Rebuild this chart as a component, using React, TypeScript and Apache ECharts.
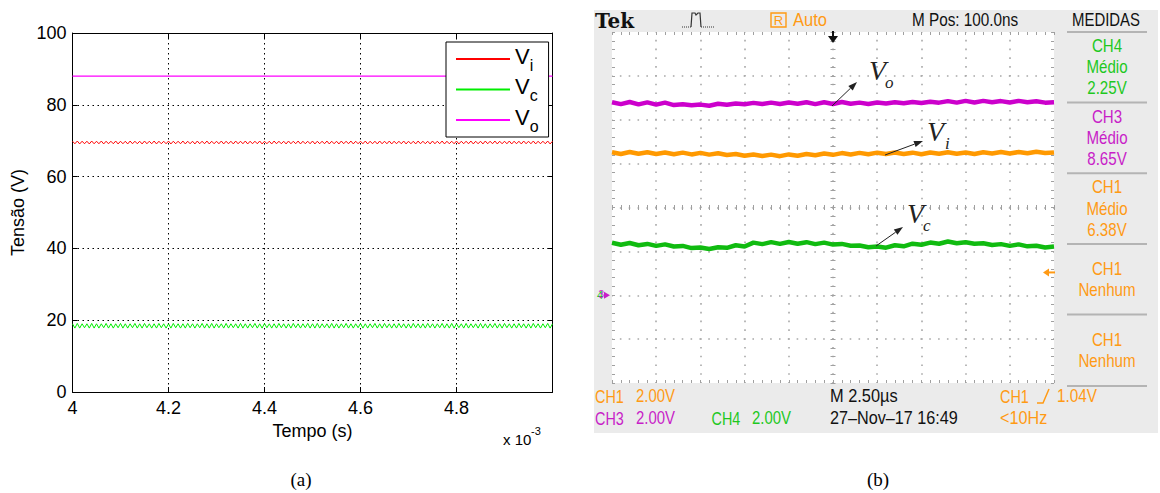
import React, { useEffect, useRef } from 'react';
import * as echarts from 'echarts';

// ================= (a) simulation (time in units of 10^-3 s) =================
const SIM_T0 = 4;
const SIM_STEP = 0.005; // sample spacing of Vi / Vc (ms)
const VO_STEP = 0.05;   // sample spacing of Vo (ms)
const SIM_X_MIN = 4;
const SIM_X_MAX = 5;
const SIM_Y_MAX = 100;

const VI_SIM = [
  69.85, 69.15, 69.9, 69.1, 69.85, 69.15, 69.85, 69.1, 69.9, 69.15, 69.85, 69.15, 69.9, 69.1, 69.85, 69.15, 69.85, 69.15, 69.9, 69.1,
  69.85, 69.15, 69.85, 69.1, 69.9, 69.15, 69.85, 69.15, 69.85, 69.1, 69.9, 69.15, 69.85, 69.15, 69.9, 69.1, 69.85, 69.15, 69.85, 69.15,
  69.9, 69.1, 69.85, 69.15, 69.85, 69.15, 69.9, 69.1, 69.85, 69.15, 69.85, 69.1, 69.9, 69.15, 69.85, 69.15, 69.9, 69.1, 69.85, 69.15,
  69.85, 69.15, 69.9, 69.1, 69.85, 69.15, 69.85, 69.1, 69.9, 69.15, 69.85, 69.15, 69.9, 69.1, 69.85, 69.15, 69.85, 69.15, 69.9, 69.1,
  69.85, 69.15, 69.85, 69.1, 69.9, 69.15, 69.85, 69.15, 69.85, 69.1, 69.9, 69.15, 69.85, 69.15, 69.9, 69.1, 69.85, 69.15, 69.85, 69.15,
  69.9, 69.1, 69.85, 69.15, 69.85, 69.15, 69.9, 69.1, 69.85, 69.15, 69.85, 69.1, 69.9, 69.15, 69.85, 69.15, 69.9, 69.1, 69.85, 69.15,
  69.85, 69.15, 69.9, 69.1, 69.85, 69.15, 69.85, 69.1, 69.9, 69.15, 69.85, 69.15, 69.9, 69.1, 69.85, 69.15, 69.85, 69.15, 69.9, 69.1,
  69.85, 69.15, 69.85, 69.1, 69.9, 69.15, 69.85, 69.15, 69.85, 69.1, 69.9, 69.15, 69.85, 69.15, 69.9, 69.1, 69.85, 69.15, 69.85, 69.15,
  69.9, 69.1, 69.85, 69.15, 69.85, 69.15, 69.9, 69.1, 69.85, 69.15, 69.85, 69.1, 69.9, 69.15, 69.85, 69.15, 69.9, 69.1, 69.85, 69.15,
  69.85, 69.15, 69.9, 69.1, 69.85, 69.15, 69.85, 69.1, 69.9, 69.15, 69.85, 69.15, 69.9, 69.1, 69.85, 69.15, 69.85, 69.15, 69.9, 69.1,
  69.85,
];

const VC_SIM = [
  19.0, 17.8, 19.1, 17.8, 19.0, 17.9, 19.0, 17.8, 19.1, 17.8, 19.0, 17.8, 19.0, 17.9, 19.1, 17.8, 19.0, 17.8, 19.0, 17.9,
  19.1, 17.8, 19.0, 17.8, 19.0, 17.9, 19.1, 17.8, 19.0, 17.8, 19.1, 17.9, 19.0, 17.8, 19.0, 17.8, 19.1, 17.9, 19.0, 17.8,
  19.0, 17.8, 19.1, 17.9, 19.0, 17.8, 19.0, 17.8, 19.1, 17.9, 19.0, 17.8, 19.0, 17.9, 19.1, 17.8, 19.0, 17.8, 19.1, 17.8,
  19.0, 17.9, 19.0, 17.8, 19.1, 17.8, 19.0, 17.9, 19.0, 17.8, 19.1, 17.8, 19.0, 17.8, 19.0, 17.9, 19.1, 17.8, 19.0, 17.8,
  19.1, 17.9, 19.0, 17.8, 19.0, 17.8, 19.1, 17.9, 19.0, 17.8, 19.0, 17.8, 19.1, 17.9, 19.0, 17.8, 19.0, 17.9, 19.1, 17.8,
  19.0, 17.8, 19.1, 17.8, 19.0, 17.9, 19.0, 17.8, 19.1, 17.8, 19.0, 17.8, 19.0, 17.9, 19.1, 17.8, 19.0, 17.8, 19.0, 17.9,
  19.1, 17.8, 19.0, 17.8, 19.0, 17.9, 19.1, 17.8, 19.0, 17.8, 19.1, 17.9, 19.0, 17.8, 19.0, 17.8, 19.1, 17.9, 19.0, 17.8,
  19.0, 17.8, 19.1, 17.9, 19.0, 17.8, 19.0, 17.8, 19.1, 17.9, 19.0, 17.8, 19.0, 17.9, 19.1, 17.8, 19.0, 17.8, 19.1, 17.8,
  19.0, 17.9, 19.0, 17.8, 19.1, 17.8, 19.0, 17.9, 19.0, 17.8, 19.1, 17.8, 19.0, 17.8, 19.0, 17.9, 19.1, 17.8, 19.0, 17.8,
  19.1, 17.9, 19.0, 17.8, 19.0, 17.8, 19.1, 17.9, 19.0, 17.8, 19.0, 17.8, 19.1, 17.9, 19.0, 17.8, 19.0, 17.9, 19.1, 17.8,
  19.0,
];

const VO_SIM = [
  88.0, 87.98, 88.0, 88.02, 88.0, 87.97, 88.0, 88.02, 88.01, 87.98, 88.0,
  88.02, 88.0, 87.98, 88.0, 88.01, 87.98, 88.0, 88.02, 88.0, 88.0,
];

// ================= (b) oscilloscope (x in divisions, y in volts) =================
const SCOPE_STEP = 0.2; // divisions between samples
const SCOPE_DIVS = 10;
const SCOPE_V_MIN = -4;
const SCOPE_V_MAX = 12;
const SCOPE_V_PER_DIV = 2;

const CH3_VO = [
  8.8, 8.71, 8.81, 8.7, 8.79, 8.69, 8.78, 8.67, 8.71, 8.66,
  8.69, 8.64, 8.73, 8.68, 8.74, 8.71, 8.77, 8.72, 8.78, 8.72,
  8.79, 8.73, 8.8, 8.71, 8.8, 8.72, 8.81, 8.73, 8.78, 8.72,
  8.79, 8.74, 8.8, 8.75, 8.81, 8.76, 8.82, 8.78, 8.85, 8.78,
  8.86, 8.79, 8.86, 8.8, 8.85, 8.79, 8.86, 8.8, 8.84, 8.78,
  8.8,
];
const CH1_VI = [
  6.52, 6.44, 6.53, 6.45, 6.52, 6.44, 6.51, 6.43, 6.5, 6.42,
  6.49, 6.41, 6.47, 6.39, 6.44, 6.36, 6.42, 6.35, 6.41, 6.34,
  6.42, 6.36, 6.44, 6.38, 6.46, 6.4, 6.48, 6.42, 6.49, 6.43,
  6.5, 6.44, 6.51, 6.44, 6.5, 6.43, 6.51, 6.45, 6.52, 6.45,
  6.51, 6.44, 6.52, 6.46, 6.53, 6.46, 6.53, 6.47, 6.54, 6.48,
  6.51,
];
const CH4_VC = [
  2.39, 2.3, 2.38, 2.28, 2.34, 2.25, 2.32, 2.22, 2.25, 2.15,
  2.18, 2.11, 2.19, 2.16, 2.28, 2.22, 2.4, 2.33, 2.42, 2.34,
  2.43, 2.35, 2.42, 2.33, 2.4, 2.31, 2.34, 2.26, 2.27, 2.19,
  2.22, 2.17, 2.28, 2.23, 2.35, 2.3, 2.4, 2.35, 2.45, 2.37,
  2.42, 2.35, 2.37, 2.29, 2.33, 2.25, 2.32, 2.23, 2.26, 2.18,
  2.22,
];
const TRIGGER_LEVEL = 1.04;

const MEAS_LINES = [
  ['CH4', 'Médio', '2.25V'],
  ['CH3', 'Médio', '8.65V'],
  ['CH1', 'Médio', '6.38V'],
  ['CH1', 'Nenhum'],
  ['CH1', 'Nenhum'],
];

// ================= styling =================
const SANS = '"Liberation Sans", Arial, sans-serif';
const SERIF = '"Liberation Serif", "Times New Roman", serif';
const ORANGE = '#ff9a14';
const MAGENTA = '#c81ec8';
const GREEN = '#1ec81e';
const TRACE_MAGENTA = '#cc00cc';
const TRACE_ORANGE = '#ff9900';
const TRACE_GREEN = '#10bb10';
const PANEL_GRAY = '#ebebeb';
const SCOPE_TICK = '#a0a0a0';
const SCOPE_DOT = '#a8a8a8';

// geometry
const G0 = { left: 72.5, top: 33, width: 480, height: 359 };
const G1 = { left: 612, top: 32, width: 442, height: 351 };

const MEAS_COLORS = [GREEN, MAGENTA, ORANGE, ORANGE, ORANGE];

function App() {
  const ref = useRef<HTMLDivElement>(null);

  useEffect(() => {
    if (!ref.current) return;
    const chart = echarts.init(ref.current, undefined, { renderer: 'svg' });

    const vToY = (v: number) => G1.top + ((SCOPE_V_MAX - v) / (SCOPE_V_MAX - SCOPE_V_MIN)) * G1.height;
    const groundY = vToY(0);
    const trigY = vToY(TRIGGER_LEVEL);

    const txt = (x: number, y: number, text: string, fill: string, opts: any = {}) => ({
      type: 'text',
      x,
      y,
      scaleX: opts.scaleX ?? 0.84,
      z: 20,
      style: {
        text,
        fill,
        font: `${opts.italic ? 'italic ' : ''}${opts.weight ?? 'normal'} ${opts.size ?? 18}px ${opts.family ?? SANS}`,
        align: opts.align ?? 'left',
        verticalAlign: 'middle',
      },
    });

    const arrow = (x1: number, y1: number, x2: number, y2: number) => {
      const ang = Math.atan2(y2 - y1, x2 - x1);
      const L = 9;
      const W = 3.2;
      const bx = x2 - L * Math.cos(ang);
      const by = y2 - L * Math.sin(ang);
      const px = -Math.sin(ang) * W;
      const py = Math.cos(ang) * W;
      return [
        { type: 'line', z: 20, shape: { x1, y1, x2: bx, y2: by }, style: { stroke: '#222', lineWidth: 1 } },
        {
          type: 'polygon', z: 20,
          shape: { points: [[x2, y2], [bx + px, by + py], [bx - px, by - py]] },
          style: { fill: '#222' },
        },
      ];
    };

    const label = (x: number, y: number, main: string, sub: string, subDx: number) => [
      txt(x, y, main, '#222', { family: SERIF, size: 28, scaleX: 1, italic: true }),
      txt(x + subDx, y + 12, sub, '#222', { family: SERIF, size: 17, scaleX: 1, italic: true }),
    ];

    const graphics: any[] = [
      // scope background
      { type: 'rect', z: -10, shape: { x: 594, y: 10, width: 564, height: 423 }, style: { fill: PANEL_GRAY } },
      // top bar
      txt(595, 20.5, 'Tek', '#111', { family: '"DejaVu Serif", serif', weight: 'bold', size: 20, scaleX: 1 }),
      {
        type: 'polyline', z: 20,
        shape: { points: [[682, 27], [691, 27]] },
        style: { stroke: '#333', lineWidth: 1, lineDash: [1, 1] },
      },
      {
        type: 'polyline', z: 20,
        shape: { points: [[691, 27], [692, 13], [695, 13], [696, 15], [698, 13], [700, 13], [701, 27]] },
        style: { stroke: '#333', lineWidth: 1.2, fill: 'none' },
      },
      {
        type: 'polyline', z: 20,
        shape: { points: [[701, 27], [715, 27]] },
        style: { stroke: '#333', lineWidth: 1, lineDash: [1, 1] },
      },
      { type: 'rect', z: 20, shape: { x: 771, y: 13, width: 15, height: 14 }, style: { fill: 'none', stroke: ORANGE, lineWidth: 1.4 } },
      txt(778.5, 20.5, 'R', ORANGE, { size: 13, align: 'center', scaleX: 1 }),
      txt(793, 20, 'Auto', ORANGE, { scaleX: 0.92 }),
      txt(912, 20, 'M Pos: 100.0ns', '#111', { scaleX: 0.85 }),
      txt(1106, 20, 'MEDIDAS', '#111', { align: 'center', scaleX: 0.83 }),
      // top trigger-position marker
      { type: 'rect', z: 20, shape: { x: 832, y: 31, width: 2, height: 6 }, style: { fill: '#111' } },
      { type: 'polygon', z: 20, shape: { points: [[828, 36], [838, 36], [833, 43]] }, style: { fill: '#111' } },
      // ground marker (left)
      txt(597, groundY, '4', GREEN, { size: 11, scaleX: 1 }),
      txt(598.5, groundY - 1, '3', MAGENTA, { size: 10, scaleX: 1 }),
      { type: 'polygon', z: 20, shape: { points: [[604, groundY - 3.5], [604, groundY + 3.5], [610, groundY]] }, style: { fill: MAGENTA } },
      // trigger level marker (right)
      { type: 'polygon', z: 20, shape: { points: [[1043, trigY], [1049, trigY - 4], [1049, trigY + 4]] }, style: { fill: ORANGE } },
      { type: 'line', z: 20, shape: { x1: 1048, y1: trigY, x2: 1055, y2: trigY }, style: { stroke: ORANGE, lineWidth: 2 } },
      // bottom bar
      txt(595, 396, 'CH1', ORANGE, { scaleX: 0.8 }),
      txt(636, 396, '2.00V', ORANGE, { scaleX: 0.83 }),
      txt(595, 418.5, 'CH3', MAGENTA, { scaleX: 0.8 }),
      txt(636, 418.5, '2.00V', MAGENTA, { scaleX: 0.83 }),
      txt(711.5, 418.5, 'CH4', GREEN, { scaleX: 0.8 }),
      txt(752, 418.5, '2.00V', GREEN, { scaleX: 0.83 }),
      txt(830, 396, 'M 2.50µs', '#111', { scaleX: 0.91 }),
      txt(830, 418.5, '27–Nov–17 16:49', '#111', { scaleX: 0.9 }),
      txt(1000, 396, 'CH1', ORANGE, { scaleX: 0.8 }),
      {
        type: 'polyline', z: 20,
        shape: { points: [[1037, 403], [1043, 403], [1049, 389]] },
        style: { stroke: ORANGE, lineWidth: 1.5, fill: 'none' },
      },
      txt(1057, 396, '1.04V', ORANGE, { scaleX: 0.85 }),
      txt(1000, 418.5, '<10Hz', ORANGE, { scaleX: 0.9 }),
      // annotations
      ...arrow(832, 106, 857, 82),
      ...label(869, 70, 'V', 'o', 16),
      ...arrow(885, 155, 923, 141),
      ...label(927, 131, 'V', 'i', 18),
      ...arrow(876, 246, 903, 227),
      ...label(907, 213, 'V', 'c', 16),
      // (a) exponent label
      txt(503, 439, 'x 10', '#000', { size: 15, scaleX: 1 }),
      txt(531, 431, '-3', '#000', { size: 11, scaleX: 1 }),
      // captions
      txt(301, 479, '(a)', '#000', { family: SERIF, size: 19, align: 'center', scaleX: 1 }),
      txt(878, 479, '(b)', '#000', { family: SERIF, size: 19, align: 'center', scaleX: 1 }),
    ];

    // measurement panel
    const seps = [32, 102.5, 173.3, 244, 314.5, 386];
    seps.forEach((y) =>
      graphics.push({ type: 'line', z: 20, shape: { x1: 1067, y1: y, x2: 1147, y2: y }, style: { stroke: '#b4b4b4', lineWidth: 2 } })
    );
    MEAS_LINES.forEach((lines, i) => {
      const mid = (seps[i] + seps[i + 1]) / 2;
      const lh = 21.2;
      const y0 = mid - ((lines.length - 1) * lh) / 2;
      lines.forEach((s, j) => graphics.push(txt(1107, y0 + j * lh, s, MEAS_COLORS[i], { align: 'center', scaleX: 0.84 })));
    });

    const simX = (i: number) => SIM_T0 + i * SIM_STEP;
    const scopeX = (i: number) => i * SCOPE_STEP;
    const tick = { show: true, inside: true, length: 5, lineStyle: { color: '#000', width: 1 } };
    const scopeTick = { show: true, inside: true, length: 3, lineStyle: { color: SCOPE_TICK, width: 1 } };
    const scopeMinor = { show: true, splitNumber: 5, length: 3, lineStyle: { color: SCOPE_TICK, width: 1 } };
    const centerTick = { show: true, inside: true, length: 5, lineStyle: { color: SCOPE_TICK, width: 1 } };
    const centerMinor = { show: true, splitNumber: 5, length: 5, lineStyle: { color: SCOPE_TICK, width: 1 } };

    const option: any = {
      animation: false,
      backgroundColor: '#fff',
      grid: [
        { ...G0, containLabel: false },
        { ...G1, containLabel: false, show: true, backgroundColor: '#fff', borderWidth: 0 },
      ],
      legend: {
        data: ['Vi', 'Vc', 'Vo'],
        orient: 'vertical',
        left: 446,
        top: 42,
        z: 10,
        backgroundColor: '#fff',
        borderColor: '#000',
        borderWidth: 1,
        borderRadius: 0,
        padding: [3, 10, 3, 10],
        itemWidth: 54,
        itemHeight: 2,
        itemGap: 2.5,
        icon: 'rect',
        selectedMode: false,
        formatter: (n: string) => `{v|V}{s|${n.slice(1)}}`,
        textStyle: {
          rich: {
            v: { fontSize: 22, fontFamily: SANS, color: '#000', height: 22, verticalAlign: 'top' },
            s: { fontSize: 16, fontFamily: SANS, color: '#000', height: 16, verticalAlign: 'bottom', padding: [12, 0, 0, 0] },
          },
        },
      },
      xAxis: [
        {
          gridIndex: 0, type: 'value', min: SIM_X_MIN, max: SIM_X_MAX, interval: 0.2, position: 'bottom',
          axisLine: { show: true, onZero: false, lineStyle: { color: '#000', width: 1 } },
          axisTick: tick,
          axisLabel: {
            color: '#000', fontSize: 18, fontFamily: SANS, margin: 7,
            formatter: (v: number) => (v >= SIM_X_MAX - 1e-9 ? '' : String(Math.round(v * 10) / 10)),
          },
          splitLine: { show: true, showMinLine: false, showMaxLine: false, lineStyle: { color: '#000', width: 1, type: [1.5, 3.5] } },
          name: 'Tempo (s)', nameLocation: 'middle', nameGap: 29,
          nameTextStyle: { color: '#000', fontSize: 18, fontFamily: SANS },
        },
        {
          gridIndex: 0, type: 'value', min: SIM_X_MIN, max: SIM_X_MAX, interval: 0.2, position: 'top',
          axisLine: { show: true, onZero: false, lineStyle: { color: '#000', width: 1 } },
          axisTick: tick, axisLabel: { show: false }, splitLine: { show: false },
        },
        {
          gridIndex: 1, type: 'value', min: 0, max: SCOPE_DIVS, interval: 1, position: 'bottom',
          axisLine: { show: false, onZero: false }, axisLabel: { show: false },
          axisTick: scopeTick, minorTick: scopeMinor,
          splitLine: { show: true, showMinLine: false, showMaxLine: false, lineStyle: { color: SCOPE_DOT, width: 1.6, type: [1.6, 7.175], dashOffset: 0.8 } },
        },
        {
          gridIndex: 1, type: 'value', min: 0, max: SCOPE_DIVS, interval: 1, position: 'top',
          axisLine: { show: false, onZero: false }, axisLabel: { show: false },
          axisTick: scopeTick, minorTick: scopeMinor, splitLine: { show: false },
        },
        {
          gridIndex: 1, type: 'value', min: 0, max: SCOPE_DIVS, interval: 1, position: 'bottom', offset: -(G1.height / 2 - 2.5),
          axisLine: { show: false, onZero: false }, axisLabel: { show: false },
          axisTick: centerTick, minorTick: centerMinor, splitLine: { show: false },
        },
      ],
      yAxis: [
        {
          gridIndex: 0, type: 'value', min: 0, max: SIM_Y_MAX, interval: 20, position: 'left',
          axisLine: { show: true, onZero: false, lineStyle: { color: '#000', width: 1 } },
          axisTick: tick,
          axisLabel: { color: '#000', fontSize: 18, fontFamily: SANS, margin: 6 },
          splitLine: { show: true, showMinLine: false, showMaxLine: false, lineStyle: { color: '#000', width: 1, type: [1.5, 3.5] } },
          name: 'Tensão (V)', nameLocation: 'middle', nameGap: 46, nameRotate: 90,
          nameTextStyle: { color: '#000', fontSize: 18, fontFamily: SANS },
        },
        {
          gridIndex: 0, type: 'value', min: 0, max: SIM_Y_MAX, interval: 20, position: 'right',
          axisLine: { show: true, onZero: false, lineStyle: { color: '#000', width: 1 } },
          axisTick: tick, axisLabel: { show: false }, splitLine: { show: false },
        },
        {
          gridIndex: 1, type: 'value', min: SCOPE_V_MIN, max: SCOPE_V_MAX, interval: SCOPE_V_PER_DIV, position: 'left',
          axisLine: { show: false, onZero: false }, axisLabel: { show: false },
          axisTick: scopeTick, minorTick: scopeMinor,
          splitLine: { show: true, showMinLine: false, showMaxLine: false, lineStyle: { color: SCOPE_DOT, width: 1.6, type: [1.6, 7.24], dashOffset: 0.8 } },
        },
        {
          gridIndex: 1, type: 'value', min: SCOPE_V_MIN, max: SCOPE_V_MAX, interval: SCOPE_V_PER_DIV, position: 'right',
          axisLine: { show: false, onZero: false }, axisLabel: { show: false },
          axisTick: scopeTick, minorTick: scopeMinor, splitLine: { show: false },
        },
        {
          gridIndex: 1, type: 'value', min: SCOPE_V_MIN, max: SCOPE_V_MAX, interval: SCOPE_V_PER_DIV, position: 'left', offset: -(G1.width / 2 - 2.5),
          axisLine: { show: false, onZero: false }, axisLabel: { show: false },
          axisTick: centerTick, minorTick: centerMinor, splitLine: { show: false },
        },
      ],
      series: [
        {
          name: 'Vi', type: 'line', xAxisIndex: 0, yAxisIndex: 0, showSymbol: false, symbol: 'none',
          data: VI_SIM.map((v, i) => [simX(i), v]),
          lineStyle: { color: '#ff0000', width: 1 }, itemStyle: { color: '#ff0000' },
        },
        {
          name: 'Vc', type: 'line', xAxisIndex: 0, yAxisIndex: 0, showSymbol: false, symbol: 'none',
          data: VC_SIM.map((v, i) => [simX(i), v]),
          lineStyle: { color: '#00ee00', width: 1 }, itemStyle: { color: '#00ee00' },
        },
        {
          name: 'Vo', type: 'line', xAxisIndex: 0, yAxisIndex: 0, showSymbol: false, symbol: 'none',
          data: VO_SIM.map((v, i) => [SIM_T0 + i * VO_STEP, v]),
          lineStyle: { color: '#ff00ff', width: 1.2 }, itemStyle: { color: '#ff00ff' },
        },
        {
          name: 'CH3', type: 'line', xAxisIndex: 2, yAxisIndex: 2, showSymbol: false, symbol: 'none',
          data: CH3_VO.map((v, i) => [scopeX(i), v]),
          lineStyle: { color: TRACE_MAGENTA, width: 4.5 }, itemStyle: { color: TRACE_MAGENTA },
        },
        {
          name: 'CH1', type: 'line', xAxisIndex: 2, yAxisIndex: 2, showSymbol: false, symbol: 'none',
          data: CH1_VI.map((v, i) => [scopeX(i), v]),
          lineStyle: { color: TRACE_ORANGE, width: 4.5 }, itemStyle: { color: TRACE_ORANGE },
        },
        {
          name: 'CH4', type: 'line', xAxisIndex: 2, yAxisIndex: 2, showSymbol: false, symbol: 'none',
          data: CH4_VC.map((v, i) => [scopeX(i), v]),
          lineStyle: { color: TRACE_GREEN, width: 4.5 }, itemStyle: { color: TRACE_GREEN },
        },
      ],
      graphic: graphics,
    };

    chart.setOption(option);
    return () => chart.dispose();
  }, []);

  return (
    <div
      ref={ref}
      style={{ position: 'absolute', left: 0, top: 0, width: 1160, height: 493, background: '#fff' }}
    />
  );
}

export default App;
